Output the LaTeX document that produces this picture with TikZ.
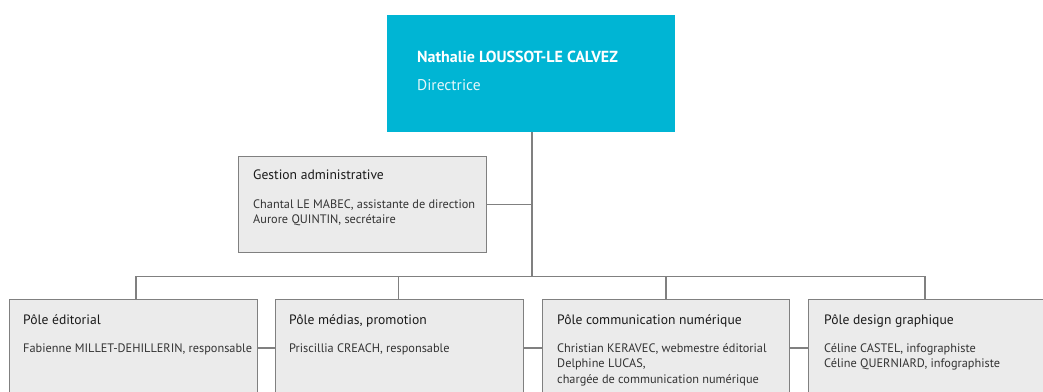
\documentclass[tikz,border=0pt]{standalone}
\usepackage{fontspec}
\setmainfont{PT Sans}
\usetikzlibrary{calc}
\definecolor{cyanbox}{HTML}{00B5D4}
\definecolor{greyfill}{HTML}{EBEBEB}
\definecolor{greyline}{HTML}{808080}
\definecolor{txt}{HTML}{333333}
\definecolor{ttl}{HTML}{1A1A1A}
\definecolor{lightw}{HTML}{E6F7FA}
\tikzset{
  boxg/.style={draw=greyline, fill=greyfill, line width=1.1pt, anchor=north west, inner sep=0pt, minimum width=248pt},
  link/.style={draw=greyline, line width=1.1pt},
  ttlt/.style={anchor=base west, inner sep=0pt, text=ttl, font=\fontsize{13.6}{15}\selectfont},
  bodyt/.style={anchor=base west, inner sep=0pt, text=txt, font=\fontsize{12.3}{15.5}\selectfont, align=left},
}
\begin{document}
\begin{tikzpicture}[x=1pt,y=-1pt]
\useasboundingbox (0,0) rectangle (1043,391);
\clip (0,0) rectangle (1043,391);
% top
\node[fill=cyanbox, anchor=north west, inner sep=0pt, minimum width=288pt, minimum height=117pt] (top) at (387,15) {};
\node[anchor=base west, inner sep=0pt, text=white, font=\fontsize{16}{18}\selectfont\bfseries] (topname) at (417,62) {Nathalie LOUSSOT-LE CALVEZ};
\node[anchor=base west, inner sep=0pt, text=lightw, font=\fontsize{15.5}{18}\selectfont] (toprole) at (417,90) {Directrice};
% admin
\node[boxg, minimum width=248pt, minimum height=96pt] (admin) at (238,156) {};
\node[ttlt] (admint) at (253,179) {Gestion administrative};
\node[bodyt] (adminb1) at (253,208) {Chantal LE MABEC, assistante de direction};
\node[bodyt] (adminb2) at (253,223.5) {Aurore QUINTIN, secrétaire};
% poles
\node[boxg, minimum height=120pt] (p1) at (9,299) {};
\node[boxg, minimum height=120pt] (p2) at (275,299) {};
\node[boxg, minimum height=120pt, minimum width=247pt] (p3) at (542,299) {};
\node[boxg, minimum height=120pt, minimum width=260pt] (p4) at (808,299) {};
\node[ttlt] (p1t) at (23,324) {Pôle éditorial};
\node[bodyt] (p1b) at (23,352) {Fabienne MILLET-DEHILLERIN, responsable};
\node[ttlt] (p2t) at (289,324) {Pôle médias, promotion};
\node[bodyt] (p2b) at (289,352) {Priscillia CREACH, responsable};
\node[ttlt] (p3t) at (557,324) {Pôle communication numérique};
\node[bodyt] (p3b1) at (557,352) {Christian KERAVEC, webmestre éditorial};
\node[bodyt] (p3b2) at (557,367.5) {Delphine LUCAS,};
\node[bodyt] (p3b3) at (557,383) {chargée de communication numérique};
\node[ttlt] (p4t) at (824,324) {Pôle design graphique};
\node[bodyt] (p4b1) at (824,352) {Céline CASTEL, infographiste};
\node[bodyt] (p4b2) at (824,367.5) {Céline QUERNIARD, infographiste};
% connectors
\coordinate (bus) at (532,276.5);
\coordinate (v1) at ($(p1.north west)+(127,0)$);
\coordinate (v2) at ($(p2.north west)+(123.5,0)$);
\coordinate (v3) at ($(p3.north west)+(124,0)$);
\coordinate (v4) at ($(p4.north west)+(117,0)$);
\path[link] (top.south -| bus) -- (bus);
\path[link] (admin.east) -- (admin.east -| bus);
\path[link] (v1) -- (v1 |- bus) -- (v4 |- bus) -- (v4);
\path[link] (v2) -- (v2 |- bus);
\path[link] (v3) -- (v3 |- bus);
\path[link] ($(p1.north east)+(0,49)$) -- ($(p2.north west)+(0,49)$);
\path[link] ($(p2.north east)+(0,49)$) -- ($(p3.north west)+(0,49)$);
\path[link] ($(p3.north east)+(0,49)$) -- ($(p4.north west)+(0,49)$);
\end{tikzpicture}
\end{document}
